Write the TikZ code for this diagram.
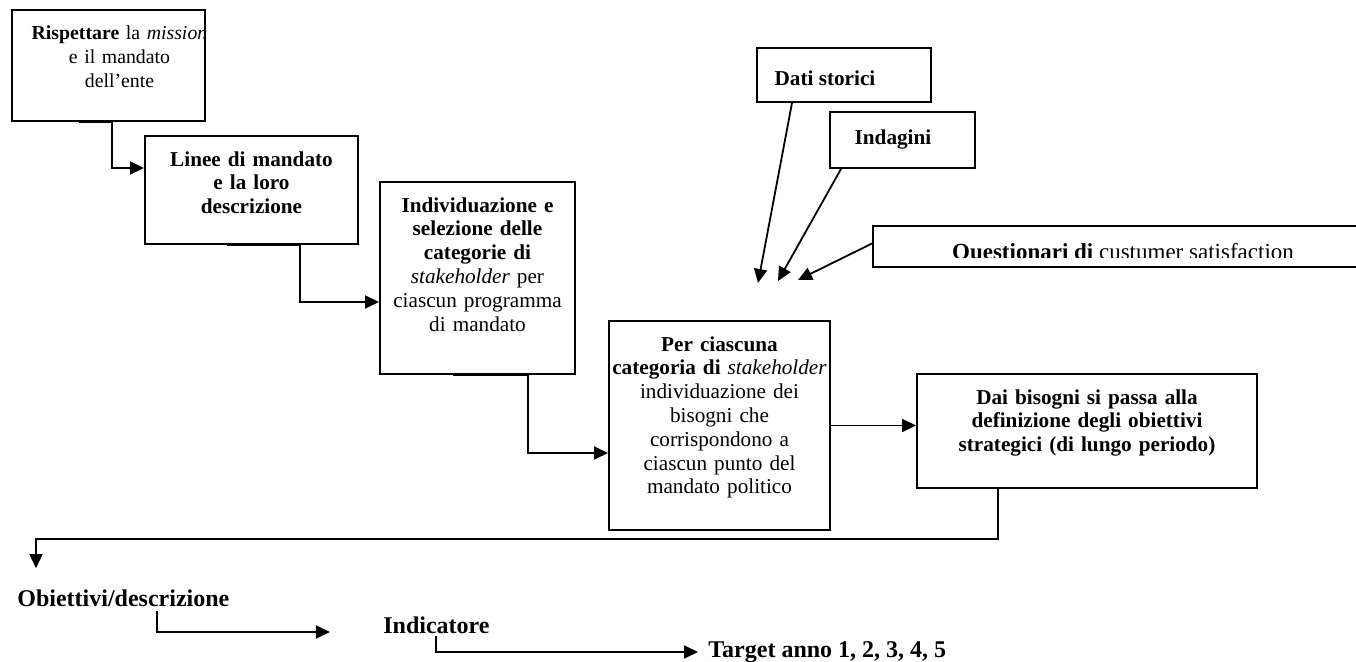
\documentclass[tikz,border=0pt]{standalone}
\usepackage{fontspec}
\setmainfont{Liberation Serif}
\usepackage{tikz}
\usetikzlibrary{shapes,arrows,arrows.meta}
\usetikzlibrary{positioning}
\usetikzlibrary{calc}

\begin{document}
\begin{tikzpicture}[x=0.5pt,y=-0.5pt]
\tikzstyle{mybox}=[draw=black,line width=1pt,inner sep=0pt];
\tikzstyle{mytext}=[inner sep=0pt,align=center,font=\fontsize{10.6}{11.9}\selectfont];
\tikzstyle{mylabel}=[inner sep=0pt,font=\fontsize{12}{14}\selectfont\bfseries];
\tikzstyle{myarrow}=[line width=0.9pt,draw=black,-{Triangle[length=7pt,width=6.5pt]}];

\clip (0,0) rectangle (1356,662); % page

% the chain of steps
\node[mybox,minimum width=96.5pt,minimum height=55.5pt] (rispettare) at (108.5,65.5) {};
\node[mytext,font=\fontsize{9.9}{12.2}\selectfont,text width=95pt,below=8pt of rispettare.north,xshift=5.5pt] (rispettaretxt)
  {\textbf{Rispettare} la \textit{mission}\\ e il mandato\\ dell’ente};

\node[mybox,minimum width=106.5pt,minimum height=54pt] (linee) at (251.5,190) {};
\node[mytext,text width=104pt,below=8pt of linee.north] (lineetxt)
  {\textbf{Linee di mandato\\ e la loro\\ descrizione}};

\node[mybox,minimum width=97.5pt,minimum height=96pt] (categorie) at (477.5,278) {};
\node[mytext,text width=96pt,below=8pt of categorie.north] (categorietxt)
  {\textbf{Individuazione e\\ selezione delle\\ categorie di}\\ \textit{stakeholder} per\\ ciascun programma\\ di mandato};

\node[mybox,minimum width=110.5pt,minimum height=104.5pt] (bisogni) at (719.5,425.5) {};
\node[mytext,text width=110pt,below=8pt of bisogni.north] (bisognitxt)
  {\textbf{Per ciascuna\\ categoria di} \textit{stakeholder}\\ individuazione dei\\ bisogni che\\ corrispondono a\\ ciascun punto del\\ mandato politico};

\node[mybox,minimum width=170pt,minimum height=57pt] (strategici) at (1087,431) {};
\node[mytext,text width=165pt,below=8pt of strategici.north] (strategicitxt)
  {\textbf{Dai bisogni si passa alla\\ definizione degli obiettivi\\ strategici (di lungo periodo)}};

% the sources
\node[mybox,minimum width=87pt,minimum height=27pt] (datistorici) at (844,75) {};
\node[mytext] (datistoricitxt) at (825,78) {\textbf{Dati storici}};

\node[mybox,minimum width=72.5pt,minimum height=28pt] (indagini) at (902.5,140) {};
\node[mytext] (indaginitxt) at (893,139) {\textbf{Indagini}};

\node[mybox,minimum width=263.5pt,minimum height=20.5pt] (questionari) at (1136.5,246.5) {};
\begin{scope}
\clip (873,226) rectangle (1356,258); % text cut at its foot
\node[mytext,font=\fontsize{11.5}{13}\selectfont,anchor=base] (questionaritxt) at (1123,260)
  {\textbf{Questionari di} custumer satisfaction};
\end{scope}

\coordinate (tipds) at (758,283);
\coordinate (tipind) at (778,281);
\coordinate (tipq) at (798,280);
\draw[myarrow] ($(datistorici.south)+(-52,0)$) -- (tipds);
\draw[myarrow] ($(indagini.south west)+(12,0)$) -- (tipind);
\draw[myarrow] ($(questionari.west)+(0,-3)$) -- (tipq);

% the last row
\node[mylabel,anchor=west] (obiettivi) at (17,598) {Obiettivi/descrizione};
\node[mylabel] (indicatore) at (436.5,625) {Indicatore};
\node[mylabel,anchor=west] (target) at (708,652) {Target anno 1, 2, 3, 4, 5};

% connectors
\draw[myarrow] ($(rispettare.south)+(-29.5,0)$) -- ($(rispettare.south)+(3.5,0)$) |- ($(linee.west)+(0,-22)$);
\draw[myarrow] ($(linee.south)+(-24.5,0)$) -- ($(linee.south)+(48.5,0)$) |- ($(categorie.west)+(0,24)$);
\draw[myarrow] ($(categorie.south)+(-24.5,0)$) -- ($(categorie.south)+(50.5,0)$) |- ($(bisogni.west)+(0,27.5)$);
\draw[myarrow] (bisogni.east) -- (bisogni.east -| strategici.west);
\draw[myarrow] ($(strategici.south)+(-89,0)$) |- ($(obiettivi.north west)+(19,-50)$) -- ($(obiettivi.north west)+(19,-21)$);
\draw[myarrow] ($(obiettivi.south west)+(140,4)$) |- ($(indicatore.west)+(-53,7)$);
\draw[myarrow,shorten >=5pt] ($(indicatore.south west)+(53,2)$) |- (target.west);

\end{tikzpicture}
\end{document}
